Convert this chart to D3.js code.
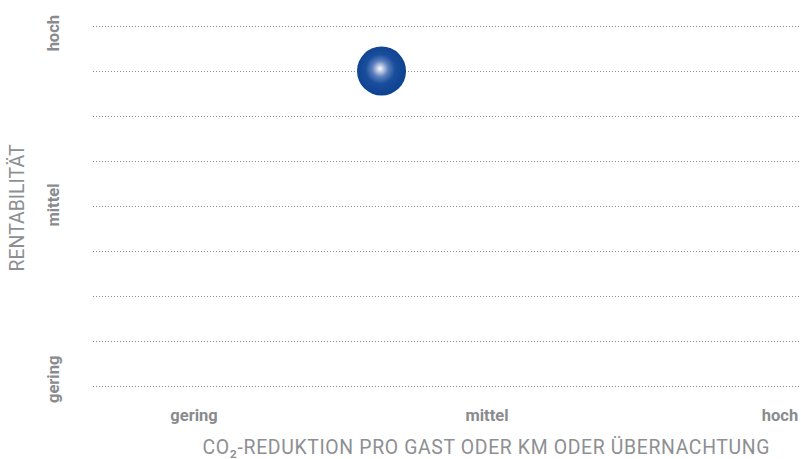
<!DOCTYPE html>
<html>
<head>
<meta charset="utf-8">
<script src="https://cdn.jsdelivr.net/npm/d3@7"></script>
<style>
  html, body { margin: 0; padding: 0; background: #ffffff; }
  svg { display: block; }
  .lbl { font-family: "Roboto", "Liberation Sans", sans-serif; fill: #898b8e; }
  .tick-lbl { font-size: 17px; font-weight: bold; }
  .title { font-size: 20px; font-weight: normal; fill: #8d8f92; }
</style>
</head>
<body>
<svg id="chart" width="801" height="459"></svg>
<script>
// Qualitative levels shared by both axes
const levels = ["gering", "mittel", "hoch"];
// Grid lines on the profitability axis (0 = gering, 2 = hoch)
const gridValues = [0, 0.25, 0.5, 0.75, 1, 1.25, 1.5, 1.75, 2];
// Measure position: CO2 reduction (x) and profitability (y), same 0..2 scale
const pointX = [0.64];
const pointY = [1.75];

const xTitle = "CO₂-REDUKTION PRO GAST ODER KM ODER ÜBERNACHTUNG";
const yTitle = "RENTABILITÄT";

const svg = d3.select("#chart");
const gridLeft = 93, gridRight = 800;
const tickSqueeze = 0.97;   // condensed look for the level labels
const titleSqueeze = 0.97;  // condensed look for the axis titles

const x = d3.scaleLinear().domain([0, 2]).range([194, 780]);
const y = d3.scaleLinear().domain([0, 2]).range([386, 26]);

// dotted horizontal grid
svg.append("g").selectAll("line")
  .data(gridValues)
  .join("line")
  .attr("x1", gridLeft).attr("x2", gridRight)
  .attr("y1", d => Math.round(y(d)) + 0.5)
  .attr("y2", d => Math.round(y(d)) + 0.5)
  .attr("stroke", "#8e8e8e")
  .attr("stroke-width", 1)
  .attr("stroke-dasharray", "1,2");

// x-axis level labels
svg.append("g").selectAll("text")
  .data(levels)
  .join("text")
  .attr("class", "lbl tick-lbl")
  .attr("transform", (d, i) => `translate(${x(i)},421) scale(${tickSqueeze},1)`)
  .attr("text-anchor", "middle")
  .text(d => d);

// y-axis level labels (rotated)
const yAnchor = ["start", "middle", "end"];
const yOffset = [17, -1, -11];
svg.append("g").selectAll("text")
  .data(levels)
  .join("text")
  .attr("class", "lbl tick-lbl")
  .attr("transform", (d, i) => `translate(59,${y(i) + yOffset[i]}) rotate(-90) scale(${tickSqueeze},1)`)
  .attr("text-anchor", (d, i) => yAnchor[i])
  .text(d => d);

// axis titles, letter-spaced to their run length
svg.append("text")
  .attr("class", "lbl title")
  .attr("transform", `translate(486,454) scale(${titleSqueeze},1)`)
  .attr("text-anchor", "middle")
  .attr("textLength", 567 / titleSqueeze)
  .attr("lengthAdjust", "spacing")
  .text(xTitle);

svg.append("text")
  .attr("class", "lbl title")
  .attr("transform", `translate(24,${(y(0) + y(2)) / 2 + 2}) rotate(-90) scale(${titleSqueeze},1)`)
  .attr("text-anchor", "middle")
  .attr("textLength", 127 / titleSqueeze)
  .attr("lengthAdjust", "spacing")
  .text(yTitle);

// glossy bubble
const defs = svg.append("defs");
const grad = defs.append("radialGradient")
  .attr("id", "bubbleGrad")
  .attr("cx", "0.48").attr("cy", "0.47").attr("r", "0.55")
  .attr("fx", "0.47").attr("fy", "0.45");
[["0%", "#ffffff"], ["10%", "#c9d3e8"], ["30%", "#5a7fbd"], ["55%", "#1a4d9c"], ["100%", "#0b418f"]]
  .forEach(([o, c]) => grad.append("stop").attr("offset", o).attr("stop-color", c));

svg.append("g").selectAll("circle")
  .data(pointX.map((v, i) => [v, pointY[i]]))
  .join("circle")
  .attr("cx", d => x(d[0]))
  .attr("cy", d => y(d[1]))
  .attr("r", 24.5)
  .attr("fill", "url(#bubbleGrad)");
</script>
</body>
</html>
